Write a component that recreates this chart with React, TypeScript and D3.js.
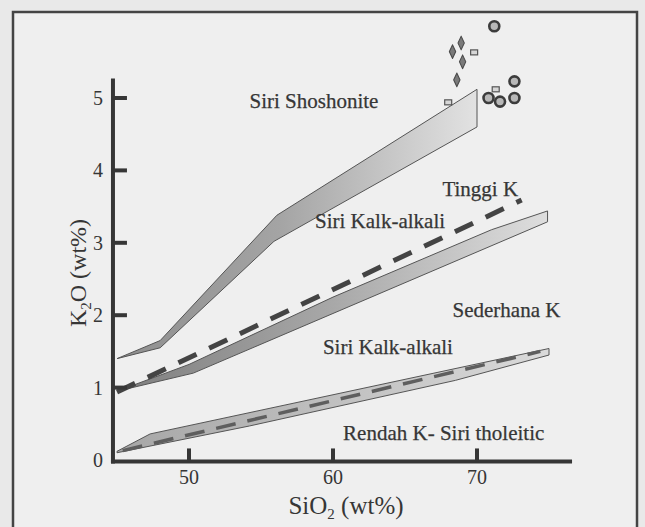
import React from 'react';
import * as d3 from 'd3';

type Pt = [number, number];

// boundary bands (SiO2, K2O)
const shoshoniteUpper: Pt[] = [[45, 1.4], [48, 1.65], [56.1, 3.38], [70, 5.12]];
const shoshoniteLower: Pt[] = [[45, 1.4], [48, 1.55], [55.9, 3.02], [70, 4.6]];
const highKUpper: Pt[] = [[45, 0.95], [50, 1.32], [60, 2.25], [71, 3.18], [74.9, 3.44]];
const highKLower: Pt[] = [[45, 0.95], [50.3, 1.2], [74.9, 3.29]];
const lowKUpper: Pt[] = [[45, 0.12], [47.3, 0.36], [75, 1.54]];
const lowKLower: Pt[] = [[45, 0.1], [54.2, 0.47], [68.5, 1.1], [75, 1.45]];
const tinggiKLine: Pt[] = [[45, 0.94], [73.1, 3.59]];
const rendahKLine: Pt[] = [[45.4, 0.13], [74.4, 1.5]];

// samples
const circleSamples: Pt[] = [[71.2, 5.99], [72.6, 5.23], [70.8, 5.0], [71.6, 4.95], [72.6, 5.0]];
const dropSamples: Pt[] = [[68.9, 5.76], [68.3, 5.64], [69.0, 5.5], [68.6, 5.25]];
const squareSamples: Pt[] = [[69.8, 5.63], [71.3, 5.12], [68.0, 4.94]];

const xTicks = [50, 60, 70];
const yTicks = [0, 1, 2, 3, 4, 5];

const labels: { text: string; at: Pt }[] = [
  { text: 'Siri Shoshonite', at: [54.2, 4.86] },
  { text: 'Tinggi K', at: [67.6, 3.65] },
  { text: 'Siri Kalk-alkali', at: [58.75, 3.2] },
  { text: 'Sederhana K', at: [68.3, 1.98] },
  { text: 'Siri Kalk-alkali', at: [59.3, 1.46] },
  { text: 'Rendah K- Siri tholeitic', at: [60.7, 0.28] },
];

const W = 645;
const H = 527;
const FONT = "'Liberation Serif', 'Times New Roman', serif";
const INK = '#363636';

const x = d3.scaleLinear().domain([50, 70]).range([189, 477]);
const y = d3.scaleLinear().domain([0, 5]).range([460, 98]);
const line = d3.line<Pt>().x(d => x(d[0])).y(d => y(d[1]));
const band = (upper: Pt[], lower: Pt[]) => line([...upper, ...lower.slice().reverse()]) + 'Z';

const App = () => {
  const x0 = x(44.72);
  const yBase = y(-0.02);
  const drop = d3.symbol().type(d3.symbolDiamond).size(48)();
  return (
    <svg width={W} height={H} style={{ position: 'absolute', left: 0, top: 0, background: '#e9e9e9' }}>
      <defs>
        <linearGradient id="gShosh" gradientUnits="userSpaceOnUse" x1={x(45)} x2={x(70)} y1={0} y2={0}>
          <stop offset="0" stopColor="#8e8e8e" />
          <stop offset="0.45" stopColor="#a4a4a4" />
          <stop offset="1" stopColor="#e2e2e2" />
        </linearGradient>
        <linearGradient id="gHighK" gradientUnits="userSpaceOnUse" x1={x(45)} x2={x(75)} y1={0} y2={0}>
          <stop offset="0" stopColor="#7e7e7e" />
          <stop offset="0.5" stopColor="#a8a8a8" />
          <stop offset="1" stopColor="#dedede" />
        </linearGradient>
        <linearGradient id="gLowK" gradientUnits="userSpaceOnUse" x1={x(45)} x2={x(75)} y1={0} y2={0}>
          <stop offset="0" stopColor="#a6a6a6" />
          <stop offset="1" stopColor="#dadada" />
        </linearGradient>
      </defs>
      <rect x={13} y={12} width={624} height={540} fill="#efefef" stroke="#444" strokeWidth={2.5} />

      <path d={band(shoshoniteUpper, shoshoniteLower)} fill="url(#gShosh)" stroke="#555" strokeWidth={1} />
      <path d={band(highKUpper, highKLower)} fill="url(#gHighK)" stroke="#555" strokeWidth={1} />
      <path d={band(lowKUpper, lowKLower)} fill="url(#gLowK)" stroke="#555" strokeWidth={1} />
      <path d={line(rendahKLine) ?? ''} fill="none" stroke="#5e5e5e" strokeWidth={3.5} strokeDasharray="20 12" />
      <path d={line(tinggiKLine) ?? ''} fill="none" stroke="#444" strokeWidth={5} strokeDasharray="20 14" />

      {/* axes */}
      <line x1={x0} x2={x0} y1={y(5.27)} y2={yBase + 2} stroke={INK} strokeWidth={4} />
      <line x1={x0 - 2} x2={x(76.6)} y1={yBase} y2={yBase} stroke={INK} strokeWidth={4} />
      {yTicks.map(t => (
        <g key={'y' + t}>
          {t > 0 && <line x1={x0} x2={x0 + 14} y1={y(t)} y2={y(t)} stroke={INK} strokeWidth={4} />}
          <text x={x0 - 10} y={y(t)} dy="0.35em" textAnchor="end" fontFamily={FONT} fontSize={20} fill={INK}>{t}</text>
        </g>
      ))}
      {xTicks.map(t => (
        <g key={'x' + t}>
          <line x1={x(t)} x2={x(t)} y1={yBase} y2={yBase - 13} stroke={INK} strokeWidth={4} />
          <text x={x(t)} y={yBase + 23} textAnchor="middle" fontFamily={FONT} fontSize={20} fill={INK}>{t}</text>
        </g>
      ))}
      <text x={346} y={514} textAnchor="middle" fontFamily={FONT} fontSize={25} fill={INK}>
        SiO<tspan fontSize={15} dy={5}>2</tspan><tspan dy={-5}> (wt%)</tspan>
      </text>
      <text transform="translate(86,273) rotate(-90)" textAnchor="middle" fontFamily={FONT} fontSize={24} fill={INK}>
        K<tspan fontSize={15} dy={5}>2</tspan><tspan dy={-5}>O (wt%)</tspan>
      </text>

      {labels.map((l, i) => (
        <text key={i} x={x(l.at[0])} y={y(l.at[1])} fontFamily={FONT} fontSize={21} fill={INK} stroke={INK} strokeWidth={0.25}>{l.text}</text>
      ))}

      {/* samples */}
      {dropSamples.map((d, i) => (
        <path key={'d' + i} d={drop ?? ''} transform={`translate(${x(d[0])},${y(d[1])}) scale(0.85,1.05)`} fill="#7a7a7a" stroke="#4a4a4a" strokeWidth={1.2} strokeLinejoin="round" />
      ))}
      {squareSamples.map((d, i) => (
        <rect key={'s' + i} x={x(d[0]) - 3.5} y={y(d[1]) - 2.5} width={7} height={5} fill="#d6d6d6" stroke="#555" strokeWidth={1.2} />
      ))}
      {circleSamples.map((d, i) => (
        <circle key={'c' + i} cx={x(d[0])} cy={y(d[1])} r={5} fill="#b8b8b8" stroke="#3c3c3c" strokeWidth={2.6} />
      ))}
    </svg>
  );
};

export default App;
